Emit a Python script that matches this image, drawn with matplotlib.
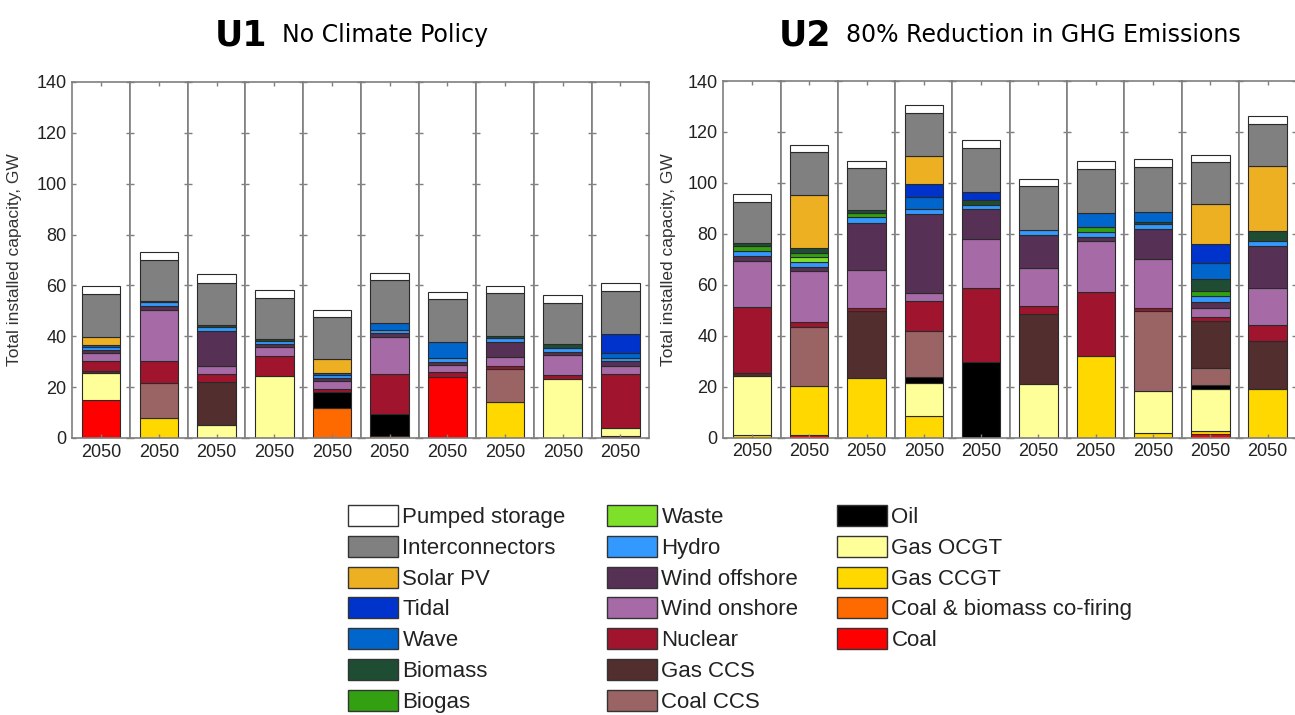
import numpy as np
import matplotlib.pyplot as plt
from matplotlib.patches import Patch

plt.rcParams['font.family'] = ['Liberation Sans', 'DejaVu Sans']

# technologies, stacked bottom -> top
techs = ['Coal', 'Coal & biomass co-firing', 'Gas CCGT', 'Gas OCGT', 'Oil',
         'Coal CCS', 'Gas CCS', 'Nuclear', 'Wind onshore', 'Wind offshore',
         'Hydro', 'Waste', 'Biogas', 'Biomass', 'Wave', 'Tidal', 'Solar PV',
         'Interconnectors', 'Pumped storage']
colors = ['#ff0000', '#ff6a00', '#ffd800', '#ffff99', '#000000',
          '#9b6464', '#532e2e', '#a0142e', '#a66aa6', '#573155',
          '#3399ff', '#7fe02a', '#33a012', '#1e4d34', '#0066cc', '#0033cc', '#eeb023',
          '#808080', '#ffffff']

years = ['2050'] * 10

# U1 - No Climate Policy (GW), one value per scenario
coal_u1 = [15.0, 0, 0, 0, 0, 0, 24.1, 0, 0, 0.9]
cofiring_u1 = [0, 0, 0, 0, 11.7, 0.9, 0, 0, 0, 0]
ccgt_u1 = [0, 8.0, 0, 0, 0, 0, 0, 14.3, 0, 0]
ocgt_u1 = [10.7, 0, 5.1, 24.5, 0, 0, 0, 0, 23.1, 3.0]
oil_u1 = [0, 0, 0, 0, 6.3, 8.5, 0, 0, 0, 0]
coal_ccs_u1 = [0, 13.5, 0, 0, 0, 0, 0, 12.7, 0, 0]
gas_ccs_u1 = [0.5, 0, 17.0, 0, 0, 0, 0, 0, 0, 0]
nuclear_u1 = [4.1, 8.9, 2.9, 7.9, 1.3, 15.8, 1.7, 1.5, 1.7, 21.3]
wind_on_u1 = [3.2, 19.9, 3.4, 3.3, 3.1, 14.6, 2.9, 3.3, 7.8, 3.3]
wind_off_u1 = [1.1, 1.6, 13.8, 1.3, 1.2, 1.3, 1.3, 6.1, 1.3, 1.6]
hydro_u1 = [1.2, 1.5, 1.5, 1.2, 1.2, 1.3, 1.5, 1.3, 1.3, 1.3]
waste_u1 = [0, 0, 0, 0, 0, 0, 0, 0, 0, 0]
biogas_u1 = [0, 0, 0, 0, 0, 0, 0, 0, 0, 0]
biomass_u1 = [0, 0.6, 0.8, 0.7, 0, 0, 0, 0.8, 1.6, 0]
wave_u1 = [0.6, 0, 0, 0, 0.8, 3.0, 6.3, 0, 0, 2.0]
tidal_u1 = [0, 0, 0, 0, 0, 0, 0, 0, 0, 7.4]
solar_u1 = [3.4, 0, 0, 0, 5.3, 0, 0, 0, 0, 0]
interconn_u1 = [17.0, 16.0, 16.6, 16.2, 16.6, 16.7, 16.8, 16.9, 16.4, 17.1]
pumped_u1 = [3.0, 3.3, 3.5, 3.2, 2.8, 2.9, 2.9, 2.8, 3.0, 2.9]

# U2 - 80% Reduction in GHG Emissions (GW)
coal_u2 = [0, 0.8, 0, 0, 0, 0, 0, 0, 1.4, 0]
cofiring_u2 = [0, 0, 0, 0, 0, 0, 0, 0, 0, 0]
ccgt_u2 = [1.0, 19.4, 23.5, 8.3, 0, 0, 32.0, 1.8, 1.1, 19.1]
ocgt_u2 = [23.2, 0, 0, 13.2, 0, 20.9, 0, 16.5, 16.4, 0]
oil_u2 = [0, 0, 0, 2.4, 29.7, 0, 0, 0, 1.7, 0]
coal_ccs_u2 = [0, 23.3, 0, 18.0, 0, 0, 0, 31.2, 6.6, 0]
gas_ccs_u2 = [1.0, 0, 26.0, 0, 0, 27.6, 0, 0, 18.7, 18.6]
nuclear_u2 = [26.0, 1.7, 1.4, 11.9, 29.0, 3.0, 25.1, 1.4, 1.6, 6.6]
wind_on_u2 = [18.0, 20.2, 15.0, 3.0, 19.4, 15.2, 20.1, 19.3, 3.3, 14.5]
wind_off_u2 = [2.1, 1.6, 18.4, 31.0, 11.5, 12.8, 1.6, 11.6, 2.6, 16.5]
hydro_u2 = [2.0, 1.9, 2.2, 1.9, 1.8, 1.9, 2.0, 2.0, 2.1, 1.8]
waste_u2 = [0, 1.9, 0, 0, 0, 0, 0, 0, 0, 0]
biogas_u2 = [1.9, 1.8, 1.7, 0, 0, 0, 1.7, 0, 1.9, 0]
biomass_u2 = [1.0, 1.8, 1.0, 0, 1.9, 0, 0, 0.9, 4.9, 3.8]
wave_u2 = [0, 0, 0, 4.6, 0, 0, 5.7, 4.0, 6.2, 0]
tidal_u2 = [0, 0, 0, 5.3, 3.3, 0, 0, 0, 7.4, 0]
solar_u2 = [0, 20.9, 0, 10.8, 0, 0, 0, 0, 15.8, 25.7]
interconn_u2 = [16.4, 16.8, 16.6, 17.1, 17.1, 17.2, 17.2, 17.7, 16.3, 16.5]
pumped_u2 = [2.9, 2.9, 2.9, 3.0, 3.0, 3.0, 3.0, 2.9, 2.9, 3.0]

u1 = np.array([coal_u1, cofiring_u1, ccgt_u1, ocgt_u1, oil_u1, coal_ccs_u1, gas_ccs_u1,
               nuclear_u1, wind_on_u1, wind_off_u1, hydro_u1, waste_u1, biogas_u1,
               biomass_u1, wave_u1, tidal_u1, solar_u1, interconn_u1, pumped_u1])
u2 = np.array([coal_u2, cofiring_u2, ccgt_u2, ocgt_u2, oil_u2, coal_ccs_u2, gas_ccs_u2,
               nuclear_u2, wind_on_u2, wind_off_u2, hydro_u2, waste_u2, biogas_u2,
               biomass_u2, wave_u2, tidal_u2, solar_u2, interconn_u2, pumped_u2])

W, H = 1295, 715
fig = plt.figure(figsize=(W / 100, H / 100), dpi=100)

GRAY = '#7f7f7f'
TXT = '#222222'


def draw_panel(data, x0, sub_w, y0, y1, ylab_x):
    for i in range(data.shape[1]):
        ax = fig.add_axes([x0 / W + i * sub_w / W, 1 - y0 / H, sub_w / W, (y0 - y1) / H])
        bottom = 0
        for k in range(data.shape[0]):
            v = data[k, i]
            if v > 0:
                ax.bar(0, v, width=0.67, bottom=bottom, color=colors[k],
                       edgecolor='#2a2a2a', linewidth=0.8)
            bottom += v
        ax.set_xlim(-0.5, 0.5)
        ax.set_ylim(0, 140)
        ax.set_yticks(np.arange(0, 141, 20))
        ax.set_xticks([0])
        ax.set_xticklabels([years[i]], fontsize=13, color=TXT)
        ax.tick_params(axis='both', direction='in', length=3, width=1, color=GRAY,
                       left=True, right=True, top=True, bottom=True,
                       labelleft=(i == 0), labelsize=13, labelcolor=TXT, pad=4)
        for sp in ax.spines.values():
            sp.set_color(GRAY)
            sp.set_linewidth(1.2)
        if i == 0:
            ax.set_ylabel('Total installed capacity, GW', fontsize=12.5, color='#333333')
            ax.yaxis.set_label_coords(ylab_x, 0.5)


draw_panel(u1, 72.3, 57.7, 438, 82, -0.87)
draw_panel(u2, 723.3, 57.3, 437.5, 81, -0.82)

# titles
fig.text(215 / W, 1 - 46 / H, 'U1', fontsize=25, fontweight='bold', family='DejaVu Sans', va='baseline')
fig.text(282 / W, 1 - 42 / H, 'No Climate Policy', fontsize=17, family='DejaVu Sans', va='baseline')
fig.text(779 / W, 1 - 46 / H, 'U2', fontsize=25, fontweight='bold', family='DejaVu Sans', va='baseline')
fig.text(846 / W, 1 - 42 / H, '80% Reduction in GHG Emissions', fontsize=17, family='DejaVu Sans', va='baseline')

# legend in three columns, top -> bottom follows the stack from the top
handles = [Patch(facecolor=c, edgecolor='#333333', linewidth=1) for c in colors][::-1]
labels = techs[::-1]
cols = [(0, 7, 348), (7, 14, 607), (14, 19, 837)]
for a, b, xl in cols:
    leg = fig.legend(handles[a:b], labels[a:b], loc='upper left',
                     bbox_to_anchor=(xl / W, 1 - 505 / H), frameon=False,
                     fontsize=16, handlelength=2.25, handleheight=1.08,
                     handletextpad=0.2, labelspacing=0.345, borderpad=0, borderaxespad=0)
    for t in leg.get_texts():
        t.set_color(TXT)

fig.savefig('out.png', dpi=100)
